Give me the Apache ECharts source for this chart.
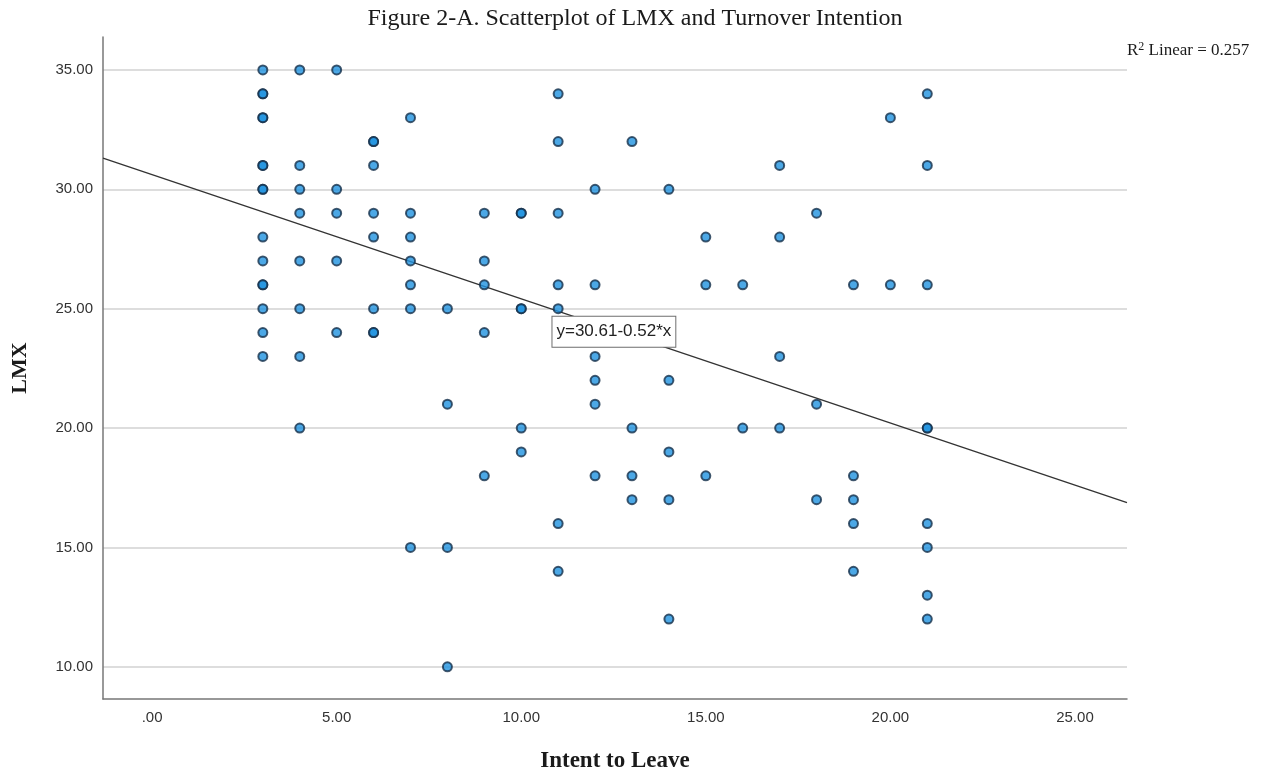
<!DOCTYPE html>
<html>
<head>
<meta charset="utf-8">
<title>Scatterplot of LMX and Turnover Intention</title>
<script src="https://cdn.jsdelivr.net/npm/echarts@6/dist/echarts.min.js"></script>
<style>
  html, body { margin: 0; padding: 0; background: #ffffff; }
  #chart { width: 1270px; height: 776px; }
</style>
</head>
<body>
<div id="chart"></div>
<script>
// Respondent scores: intent to leave (x) and LMX (y)
const intentToLeave = [
  3, 3, 3, 3, 3, 3, 3, 3, 3, 3, 3, 3, 3, 3, 3, 3,
  4, 4, 4, 4, 4, 4, 4, 4,
  5, 5, 5, 5, 5,
  6, 6, 6, 6, 6, 6, 6, 6,
  7, 7, 7, 7, 7, 7, 7,
  8, 8, 8, 8,
  9, 9, 9, 9, 9,
  10, 10, 10, 10, 10, 10,
  11, 11, 11, 11, 11, 11, 11,
  12, 12, 12, 12, 12, 12,
  13, 13, 13, 13,
  14, 14, 14, 14, 14,
  15, 15, 15,
  16, 16,
  17, 17, 17, 17,
  18, 18, 18,
  19, 19, 19, 19, 19,
  20, 20,
  21, 21, 21, 21, 21, 21, 21, 21, 21
];
const lmxScore = [
  35, 34, 34, 33, 33, 31, 31, 30, 30, 28, 27, 26, 26, 25, 24, 23,
  35, 31, 30, 29, 27, 25, 23, 20,
  35, 30, 29, 27, 24,
  32, 32, 31, 29, 28, 25, 24, 24,
  33, 29, 28, 27, 26, 25, 15,
  25, 21, 15, 10,
  29, 27, 26, 24, 18,
  29, 29, 25, 25, 20, 19,
  34, 32, 29, 26, 25, 16, 14,
  30, 26, 23, 22, 21, 18,
  32, 20, 18, 17,
  30, 22, 19, 17, 12,
  28, 26, 18,
  26, 20,
  31, 28, 23, 20,
  29, 21, 17,
  26, 18, 17, 16, 14,
  33, 26,
  34, 31, 26, 20, 20, 16, 15, 13, 12
];

// Linear fit
const fitIntercept = 30.61;
const fitSlope = -0.52;
const rSquared = 0.257;

// Tick values
const xTicks = [0, 5, 10, 15, 20, 25];
const yTicks = [10, 15, 20, 25, 30, 35];

// Axis extents
const xRange = [-1.33, 26.41];
const yRange = [8.65, 36.38];

const points = intentToLeave.map((x, i) => [x, lmxScore[i]]);
const fitLine = xRange.map(x => [x, fitIntercept + fitSlope * x]);
// where the equation box sits along the fit line
const eqLabelAt = 12.51;
const eqLabelDrop = 0.07;

const fmtTick = v => (v === 0 ? '.00' : v.toFixed(2));

const tickFont = {
  fontFamily: '"Liberation Sans", Arial, sans-serif',
  fontSize: 15,
  color: '#333333'
};

const serif = '"Liberation Serif", "Times New Roman", serif';

const chart = echarts.init(document.getElementById('chart'), null, { renderer: 'canvas' });

chart.setOption({
  backgroundColor: '#ffffff',
  animation: false,
  title: {
    text: 'Figure 2-A. Scatterplot of LMX and Turnover Intention',
    left: 'center',
    top: 2,
    textStyle: {
      fontFamily: serif,
      fontSize: 24,
      fontWeight: 'normal',
      color: '#1a1a1a'
    }
  },
  graphic: [{
    type: 'text',
    left: 1127,
    top: 41,
    style: {
      text: 'R{sup|2} Linear = ' + rSquared.toFixed(3),
      rich: {
        sup: {
          fontSize: 12,
          verticalAlign: 'top',
          padding: [0, 0, 7, 0],
          fontFamily: serif,
          fill: '#1a1a1a'
        }
      },
      font: '17px "Liberation Serif", "Times New Roman", serif',
      fill: '#1a1a1a'
    }
  }],
  grid: {
    left: 103,
    right: 143,
    top: 37,
    bottom: 77,
    containLabel: false,
    outerBoundsMode: 'none'
  },
  xAxis: {
    type: 'value',
    min: xRange[0],
    max: xRange[1],
    name: 'Intent to Leave',
    nameLocation: 'middle',
    nameGap: 51,
    nameTextStyle: {
      fontFamily: serif,
      fontSize: 23,
      fontWeight: 'bold',
      color: '#1a1a1a'
    },
    axisLine: { show: true, onZero: false, lineStyle: { color: '#777777', width: 1.5 } },
    axisTick: { show: false, customValues: xTicks },
    axisLabel: { ...tickFont, margin: 11, customValues: xTicks, formatter: fmtTick },
    splitLine: { show: false }
  },
  yAxis: {
    type: 'value',
    min: yRange[0],
    max: yRange[1],
    name: 'LMX',
    nameLocation: 'middle',
    nameRotate: 90,
    nameGap: 72,
    nameTextStyle: {
      fontFamily: serif,
      fontSize: 22,
      fontWeight: 'bold',
      color: '#1a1a1a'
    },
    axisLine: { show: true, onZero: false, lineStyle: { color: '#777777', width: 1.5 } },
    axisTick: { show: false, customValues: yTicks },
    axisLabel: { ...tickFont, margin: 10, customValues: yTicks, formatter: fmtTick },
    splitLine: { show: true, lineStyle: { color: '#d2d2d2', width: 1.5 } }
  },
  series: [
    {
      name: 'Fit',
      type: 'line',
      data: fitLine,
      symbol: 'none',
      silent: true,
      clip: true,
      lineStyle: { color: '#333333', width: 1.3 },
      z: 3,
      markPoint: {
        symbol: 'circle',
        symbolSize: 1,
        itemStyle: { color: 'rgba(0,0,0,0)' },
        silent: true,
        data: [{
          coord: [eqLabelAt, fitIntercept + fitSlope * eqLabelAt - eqLabelDrop],
          label: {
            show: true,
            position: 'inside',
            formatter: 'y=' + fitIntercept.toFixed(2) + '-' + Math.abs(fitSlope).toFixed(2) + '*x',
            fontFamily: '"Liberation Sans", Arial, sans-serif',
            fontSize: 17,
            color: '#222222',
            backgroundColor: '#ffffff',
            borderColor: '#6e6e6e',
            borderWidth: 1,
            padding: [7, 4, 6, 4]
          }
        }]
      }
    },
    {
      name: 'Respondents',
      type: 'scatter',
      data: points,
      symbol: 'circle',
      symbolSize: 9,
      itemStyle: {
        color: '#1f92e0',
        borderColor: '#15304a',
        borderWidth: 2
      },
      z: 4
    }
  ]
});
</script>
</body>
</html>
